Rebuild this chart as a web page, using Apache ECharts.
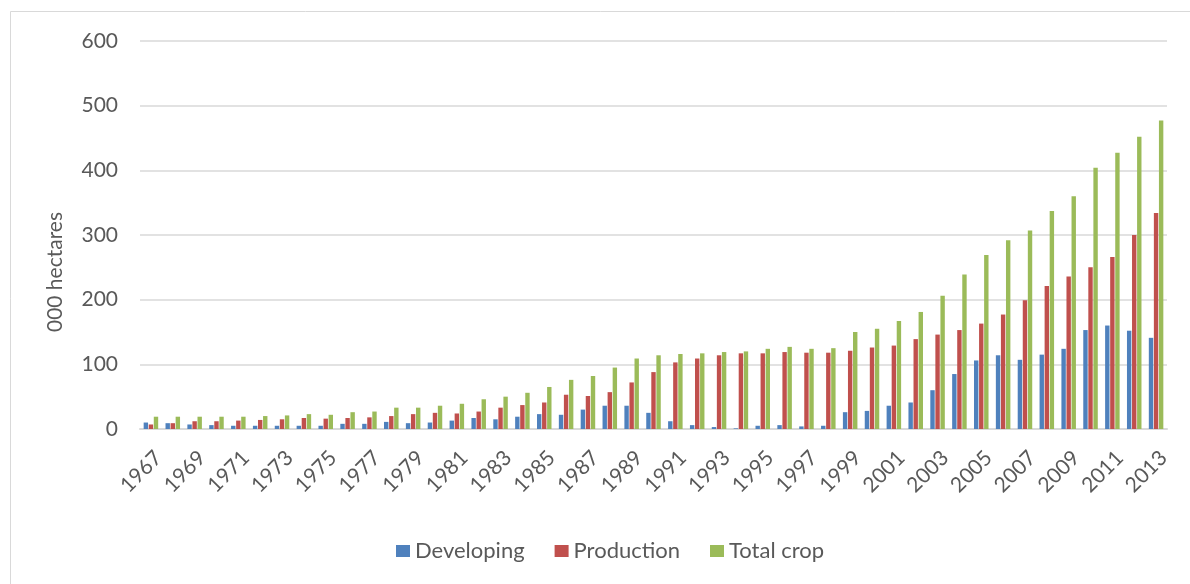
<!DOCTYPE html>
<html>
<head>
<meta charset="utf-8">
<title>Area by year</title>
<script src="https://cdn.jsdelivr.net/npm/echarts@6/dist/echarts.min.js"></script>
<style>
  html, body { margin: 0; padding: 0; background: #ffffff; }
  #chart { width: 1190px; height: 584px; }
</style>
</head>
<body>
<div id="chart"></div>
<script>
// Years on the category axis
const years = [
  '1967','1968','1969','1970','1971','1972','1973','1974','1975','1976',
  '1977','1978','1979','1980','1981','1982','1983','1984','1985','1986',
  '1987','1988','1989','1990','1991','1992','1993','1994','1995','1996',
  '1997','1998','1999','2000','2001','2002','2003','2004','2005','2006',
  '2007','2008','2009','2010','2011','2012','2013'
];

// Area in thousand hectares
const developing = [
  10, 9, 7, 6, 5, 5, 5, 5, 5, 8,
  8, 11, 9, 10, 13, 17, 15, 19, 23, 22,
  30, 36, 36, 25, 12, 6, 3, 1, 5, 6,
  4, 5, 26, 28, 36, 41, 60, 85, 106, 114,
  107, 115, 124, 153, 160, 152, 141
];
const production = [
  7, 9, 12, 12, 13, 14, 15, 17, 16, 17,
  18, 20, 23, 25, 24, 27, 33, 37, 41, 53,
  51, 57, 72, 88, 103, 109, 114, 117, 117, 119,
  118, 118, 121, 126, 129, 139, 146, 153, 163, 177,
  199, 221, 236, 250, 266, 300, 334
];
const totalCrop = [
  19, 19, 19, 19, 19, 20, 21, 23, 22, 26,
  27, 33, 33, 36, 39, 46, 50, 56, 65, 76,
  82, 95, 109, 114, 116, 117, 119, 120, 124, 127,
  124, 125, 150, 155, 167, 181, 206, 239, 269, 292,
  307, 337, 360, 404, 427, 452, 477
];

const seriesNames = ['Developing', 'Production', 'Total crop'];
const seriesColors = ['#4F81BD', '#C0504D', '#9BBB59'];
const yTicks = { min: 0, max: 600, step: 100 };
const yTitle = '000 hectares';

const FONT = 'Lato, "Open Sans", sans-serif';
const TEXT = '#595959';
const GRID = '#d9d9d9';

const chart = echarts.init(document.getElementById('chart'), null, { renderer: 'canvas' });

const makeBar = (name, data, color) => ({
  name: name,
  type: 'bar',
  data: data,
  barWidth: 4.4,
  barGap: '15%',
  itemStyle: { color: color },
  emphasis: { disabled: true }
});

chart.setOption({
  animation: false,
  backgroundColor: '#ffffff',
  textStyle: { fontFamily: FONT },
  grid: { left: 140, right: 23, top: 41, bottom: 155, containLabel: false },
  graphic: [
    {
      type: 'rect',
      shape: { x: 10.5, y: 11.5, width: 1300, height: 700 },
      style: { fill: 'none', stroke: GRID, lineWidth: 1 },
      silent: true
    },
    {
      type: 'text',
      x: 55,
      y: 272,
      rotation: Math.PI / 2,
      style: {
        text: yTitle,
        font: '21px ' + FONT,
        fill: TEXT,
        textAlign: 'center',
        textVerticalAlign: 'middle'
      },
      silent: true
    }
  ],
  legend: {
    data: seriesNames,
    left: 396,
    top: 540,
    padding: 0,
    itemWidth: 14,
    itemHeight: 12,
    itemGap: 30,
    icon: 'rect',
    textStyle: { fontFamily: FONT, fontSize: 22, color: TEXT }
  },
  xAxis: {
    type: 'category',
    data: years,
    axisLine: { show: true, lineStyle: { color: GRID, width: 2 } },
    axisTick: { show: false },
    axisLabel: {
      interval: 1,
      rotate: 45,
      margin: 18,
      align: 'right',
      verticalAlign: 'top',
      fontFamily: FONT,
      fontSize: 21,
      color: TEXT
    },
    splitLine: { show: false }
  },
  yAxis: {
    type: 'value',
    min: yTicks.min,
    max: yTicks.max,
    interval: yTicks.step,
    axisLine: { show: false },
    axisTick: { show: false },
    axisLabel: { margin: 22, fontFamily: FONT, fontSize: 21, color: TEXT },
    splitLine: { show: true, lineStyle: { color: GRID, width: 1.5 } }
  },
  series: [
    makeBar(seriesNames[0], developing, seriesColors[0]),
    makeBar(seriesNames[1], production, seriesColors[1]),
    makeBar(seriesNames[2], totalCrop, seriesColors[2])
  ]
});
</script>
</body>
</html>
